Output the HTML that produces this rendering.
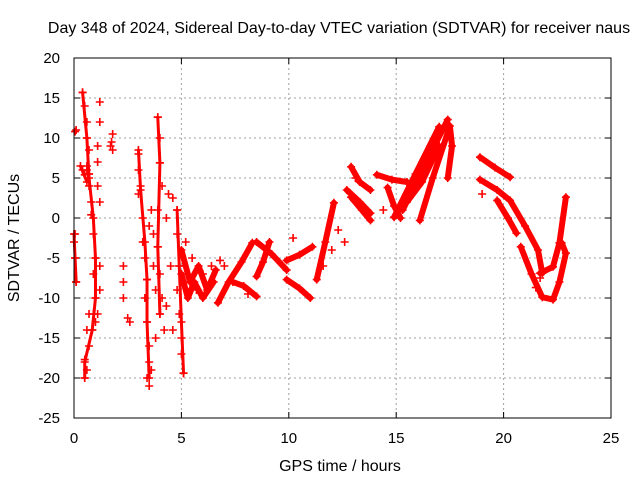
<!DOCTYPE html>
<html><head><meta charset="utf-8"><style>
body{margin:0;background:#fff;}
svg{display:block;font-family:"Liberation Sans",sans-serif;}
</style></head><body>
<svg id="chart" width="640" height="480" xmlns="http://www.w3.org/2000/svg">
<rect width="640" height="480" fill="#fff"/>
<text x="339" y="33" font-size="16" text-anchor="middle">Day 348 of 2024, Sidereal Day-to-day VTEC variation (SDTVAR) for receiver naus</text>
<g id="grid"></g>
<g id="ticks"></g>
<g id="marks"></g>
<rect x="74" y="58" width="537" height="360" fill="none" stroke="#000" stroke-width="1"/>
<text x="340" y="471" font-size="16" text-anchor="middle">GPS time / hours</text>
<text transform="translate(19,238) rotate(-90)" font-size="16" text-anchor="middle">SDTVAR / TECUs</text>
</svg>
<script>
const xTicks=[0,5,10,15,20,25];
const yTicks=[20,15,10,5,0,-5,-10,-15,-20,-25];
// continuous tracks [hours, TECU]
const lineTracks=[
 [[5.0,-4],[5.4,-8],[5.8,-6],[6.2,-9],[6.6,-6.5]],
 [[5.0,-7],[5.3,-10],[5.6,-8],[6.0,-10],[6.5,-8]],
 [[6.7,-10.6],[7.2,-8],[7.8,-5.5],[8.3,-3.1]],
 [[7.4,-8],[7.9,-8.5],[8.5,-9.8]],
 [[8.5,-3],[9.2,-4.5],[9.9,-6.5]],
 [[9.1,-3],[8.8,-5.5],[8.5,-7.3]],
 [[9.9,-5.3],[10.5,-4.6],[11.1,-3.6]],
 [[9.9,-7.7],[10.5,-8.8],[11.0,-10]],
 [[11.3,-7.7],[11.7,-3],[12.1,1.9]],
 [[12.7,3.5],[13.3,2],[13.8,0.6]],
 [[12.9,6.4],[13.3,4.5],[13.8,3.5]],
 [[12.9,2.6],[13.4,1],[13.8,-0.3]],
 [[14.1,5.4],[14.8,4.8],[15.5,4.5]],
 [[14.6,3.8],[14.9,1.5],[15.2,0]],
 [[14.9,0.1],[15.9,5.5],[17.0,11.4]],
 [[15.3,1],[16.3,6.5],[17.4,12.3]],
 [[16.1,-0.3],[16.7,5],[17.5,11.5],[17.6,9],[17.4,5]],
 [[15.5,2],[16.2,4.5],[17.0,9]],
 [[18.9,7.6],[19.6,6.3],[20.3,5.1]],
 [[18.9,4.8],[19.7,3.5],[20.3,2.2],[21.0,-1],[21.6,-4],[21.8,-6.9]],
 [[19.7,2.2],[20.2,0],[20.6,-1.9]],
 [[20.8,-3.6],[21.3,-7],[21.8,-9.9],[22.3,-10.2],[22.6,-8],[22.9,-4.4],[22.7,-3.1]],
 [[21.7,-6.9],[22.3,-6.1],[22.6,-3.1],[22.9,2.6]]
];
// sparser vertical tracks in the early hours [hours, TECU]
const leftTracks=[
 [[0.4,15.7],[0.6,10],[0.7,5],[0.9,0],[1.0,-5],[1.0,-10],[0.85,-14],[0.5,-18],[0.5,-20]],
 [[3.0,8.5],[3.1,3.5],[3.3,-3],[3.4,-7.7],[3.4,-13],[3.5,-20]],
 [[3.9,12.6],[4.0,6.9],[3.9,-3.6],[4.0,-12]],
 [[4.8,1],[4.9,-6],[5.0,-13],[5.1,-19.4]],
 [[0.3,6.5],[0.6,4.5],[0.7,5.5]],
 [[0.0,-2],[0.05,-5],[0.1,-8]]
];
// scattered points [hours, TECU]
const scatterPts=[
 [0.4,15.7],[0.5,14],[0.6,12],[0.6,10],[0.7,8.5],[0.6,6.5],[0.5,5.4],[0.7,4],[0.8,2],[0.8,0.4],[0.9,-2],[1.0,-5],[0.9,-7],[1.0,-10],[0.9,-12],[0.85,-14],[0.7,-16],[0.5,-17.7],[0.5,-20],[0.6,-19],
 [0.1,11],[0.05,10.8],[0.0,-3],[0.05,-5],[0.1,-8],[0.05,-2],[0.6,6],[0.7,5.5],[0.4,6],
 [1.2,14.5],[1.2,12],[1.1,9],[1.1,7],[1.1,4],[1.2,2],[1.2,-6],[1.2,-9],[1.1,-12],[1.0,-13],[0.6,-14],[0.7,-12],
 [1.75,9.5],[1.8,8.5],[1.7,9],[1.8,10.5],
 [2.3,-6],[2.3,-8],[2.3,-10],[2.5,-12.5],[2.6,-13],
 [3.0,8],[3.0,6],[3.1,4],[3.0,3],[3.2,0],[3.2,-3],[3.3,-5],[3.4,-7.7],[3.3,-10],[3.4,-13],[3.5,-16],[3.5,-18],[3.4,-20],[3.5,-21],[3.6,-19],
 [3.9,12.6],[4.0,10],[4.0,6.9],[4.1,4],[3.9,1],[3.9,-3.6],[4.0,-7],[4.1,-10],[4.0,-12],[3.8,-15],[3.7,-2],[3.6,1],[3.7,-6],[3.8,-9],[3.5,-1],[4.3,-11],[4.2,-14],
 [4.4,3],[4.6,2.5],[4.8,1],[4.8,-2],[4.9,-6],[4.8,-9],[4.9,-12],[5.0,-15],[5.0,-17],[5.1,-19.4],[4.6,-14],[4.5,-6],[4.3,0],
 [5.2,-3],[5.5,-5],[6.0,-7],[6.4,-6],[5.7,-9],[6.8,-5.3],[7.0,-6],
 [8.1,-9.5],[10.2,-2.5],[11.6,-6],[12.0,-4],[12.3,-1.5],[12.6,-3],[14.4,1],[13.1,5],[19.0,3],[21.5,-8.7],[21.7,-7.5]
];
const X=h=>74+h*537/25, Y=v=>218-v*8;
const NS="http://www.w3.org/2000/svg";
const grid=document.getElementById('grid'),ticks=document.getElementById('ticks'),marks=document.getElementById('marks');
function mk(tag,attrs,parent){const e=document.createElementNS(NS,tag);for(const k in attrs)e.setAttribute(k,attrs[k]);parent.appendChild(e);return e;}
xTicks.forEach(t=>{const x=X(t);
 if(t>0&&t<25){const g=mk('line',{x1:x,x2:x,y1:58,y2:418,stroke:'#a0a0a0','stroke-dasharray':'2,3'},grid);
 
 }
 mk('line',{x1:x,x2:x,y1:418,y2:412,stroke:'#000'},ticks);mk('line',{x1:x,x2:x,y1:58,y2:64,stroke:'#000'},ticks);
 const l=mk('text',{x:x,y:443,'font-size':15,'text-anchor':'middle'},ticks);l.textContent=t;
 
 });
yTicks.forEach(t=>{const y=Y(t);
 if(t<20&&t>-25){const g=mk('line',{x1:74,x2:611,y1:y,y2:y,stroke:'#a0a0a0','stroke-dasharray':'2,3'},grid);
 
 }
 mk('line',{x1:74,x2:80,y1:y,y2:y,stroke:'#000'},ticks);mk('line',{x1:611,x2:605,y1:y,y2:y,stroke:'#000'},ticks);
 const l=mk('text',{x:60,y:y+5,'font-size':15,'text-anchor':'end'},ticks);l.textContent=t;
 
 });
function plus(h,v){const x=X(h),y=Y(v);
 const p=mk('path',{d:`M${x-4},${y}h8M${x},${y-4}v8`,stroke:'#f00','stroke-width':1.6},marks);
 
 }
function track(tr,w,name){
 const pl=mk('polyline',{points:tr.map(p=>X(p[0])+','+Y(p[1])).join(' '),fill:'none',stroke:'#f00','stroke-width':w,'stroke-linejoin':'round','stroke-linecap':'round'},marks);
 
 
 tr.forEach(p=>plus(p[0],p[1]));}
lineTracks.forEach(tr=>track(tr,6,'data-track'));
leftTracks.forEach(tr=>track(tr,3,'early-data-track'));
scatterPts.forEach(p=>plus(p[0],p[1]));
</script>
</body></html>
